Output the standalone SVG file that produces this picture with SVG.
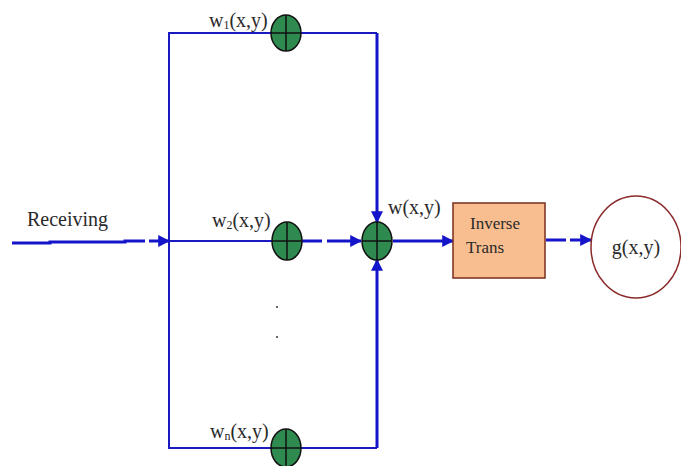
<svg xmlns="http://www.w3.org/2000/svg" width="681" height="466" viewBox="0 0 681 466">
<defs>
<marker id="ah" viewBox="0 0 10 10" refX="9" refY="5" markerWidth="4" markerHeight="4" markerUnits="strokeWidth" orient="auto">
<path d="M0,0 L10,5 L0,10 z" fill="#1414c8"/>
</marker>
</defs>
<style>
.thin{stroke:#1a1ac0;stroke-width:2;fill:none}
.thick{stroke:#1414c8;stroke-width:3;fill:none}
.node{fill:#2f8a4f;stroke:#111;stroke-width:1.5}
.cross{stroke:#111;stroke-width:1.5}
.lbl{fill:#2a2a2a}
</style>
<rect width="681" height="466" fill="#ffffff"/>
<g id="connectors">
<polyline class="thin" points="377,33 169,33 169,448 377,448"/>
<line class="thick" x1="377" y1="33" x2="377" y2="222" marker-end="url(#ah)"/>
<line class="thick" x1="377" y1="448" x2="377" y2="260" marker-end="url(#ah)"/>
<path class="thick" d="M12,243 L50,243 L50,242 L125,242 L125,241 L145,241"/>
<line class="thick" x1="149" y1="241" x2="169" y2="241" marker-end="url(#ah)"/>
<line class="thin" x1="169" y1="241" x2="272" y2="241"/>
<line class="thick" x1="302" y1="241" x2="322" y2="241"/>
<line class="thick" x1="327" y1="241" x2="361" y2="241" marker-end="url(#ah)"/>
<line class="thick" x1="393" y1="241" x2="453" y2="241" marker-end="url(#ah)"/>
<line class="thick" x1="546" y1="240" x2="566" y2="240"/>
<line class="thick" x1="570" y1="240" x2="591" y2="240" marker-end="url(#ah)"/>
</g>
<g font-family="'Liberation Serif','DejaVu Serif',serif">
<g id="n_w1">
<ellipse class="node" cx="286" cy="33" rx="15" ry="18"/>
<line class="cross" x1="271" y1="33" x2="301" y2="33"/>
<line class="cross" x1="286" y1="15" x2="286" y2="51"/>
<text class="lbl" x="209" y="27" font-size="20">w<tspan font-size="12" dy="2">1</tspan><tspan dy="-2">(x,y)</tspan></text>
</g>
<g id="n_w2">
<ellipse class="node" cx="287" cy="241" rx="15" ry="19"/>
<line class="cross" x1="272" y1="241" x2="302" y2="241"/>
<line class="cross" x1="287" y1="222" x2="287" y2="260"/>
<text class="lbl" x="212" y="227" font-size="20">w<tspan font-size="12" dy="2">2</tspan><tspan dy="-2">(x,y)</tspan></text>
</g>
<g id="n_wn">
<ellipse class="node" cx="286" cy="448" rx="15" ry="19"/>
<line class="cross" x1="271" y1="448" x2="301" y2="448"/>
<line class="cross" x1="286" y1="429" x2="286" y2="466"/>
<text class="lbl" x="210" y="438" font-size="20">w<tspan font-size="12" dy="2">n</tspan><tspan dy="-2">(x,y)</tspan></text>
</g>
<g id="dots">
<circle cx="277" cy="307" r="1" fill="#333"/>
<circle cx="277" cy="337" r="1" fill="#333"/>
</g>
<g id="n_sum">
<ellipse class="node" cx="377" cy="241" rx="15" ry="19"/>
<line class="cross" x1="362" y1="241" x2="392" y2="241"/>
<line class="cross" x1="377" y1="222" x2="377" y2="260"/>
<text class="lbl" x="388" y="214" font-size="20">w(x,y)</text>
</g>
<g id="n_receiving">
<text class="lbl" x="27" y="226" font-size="20">Receiving</text>
</g>
<g id="n_inverse">
<rect x="453" y="203" width="92" height="75" fill="#f9be90" stroke="#7a2c1c" stroke-width="1.5"/>
<text class="lbl" x="470" y="229" font-size="17">Inverse</text>
<text class="lbl" x="466" y="253" font-size="17">Trans</text>
</g>
<g id="n_g">
<ellipse cx="636" cy="247" rx="45" ry="51" fill="#ffffff" stroke="#8b2a2a" stroke-width="1.5"/>
<text class="lbl" x="636" y="254" font-size="20" text-anchor="middle">g(x,y)</text>
</g>
</g>
</svg>
